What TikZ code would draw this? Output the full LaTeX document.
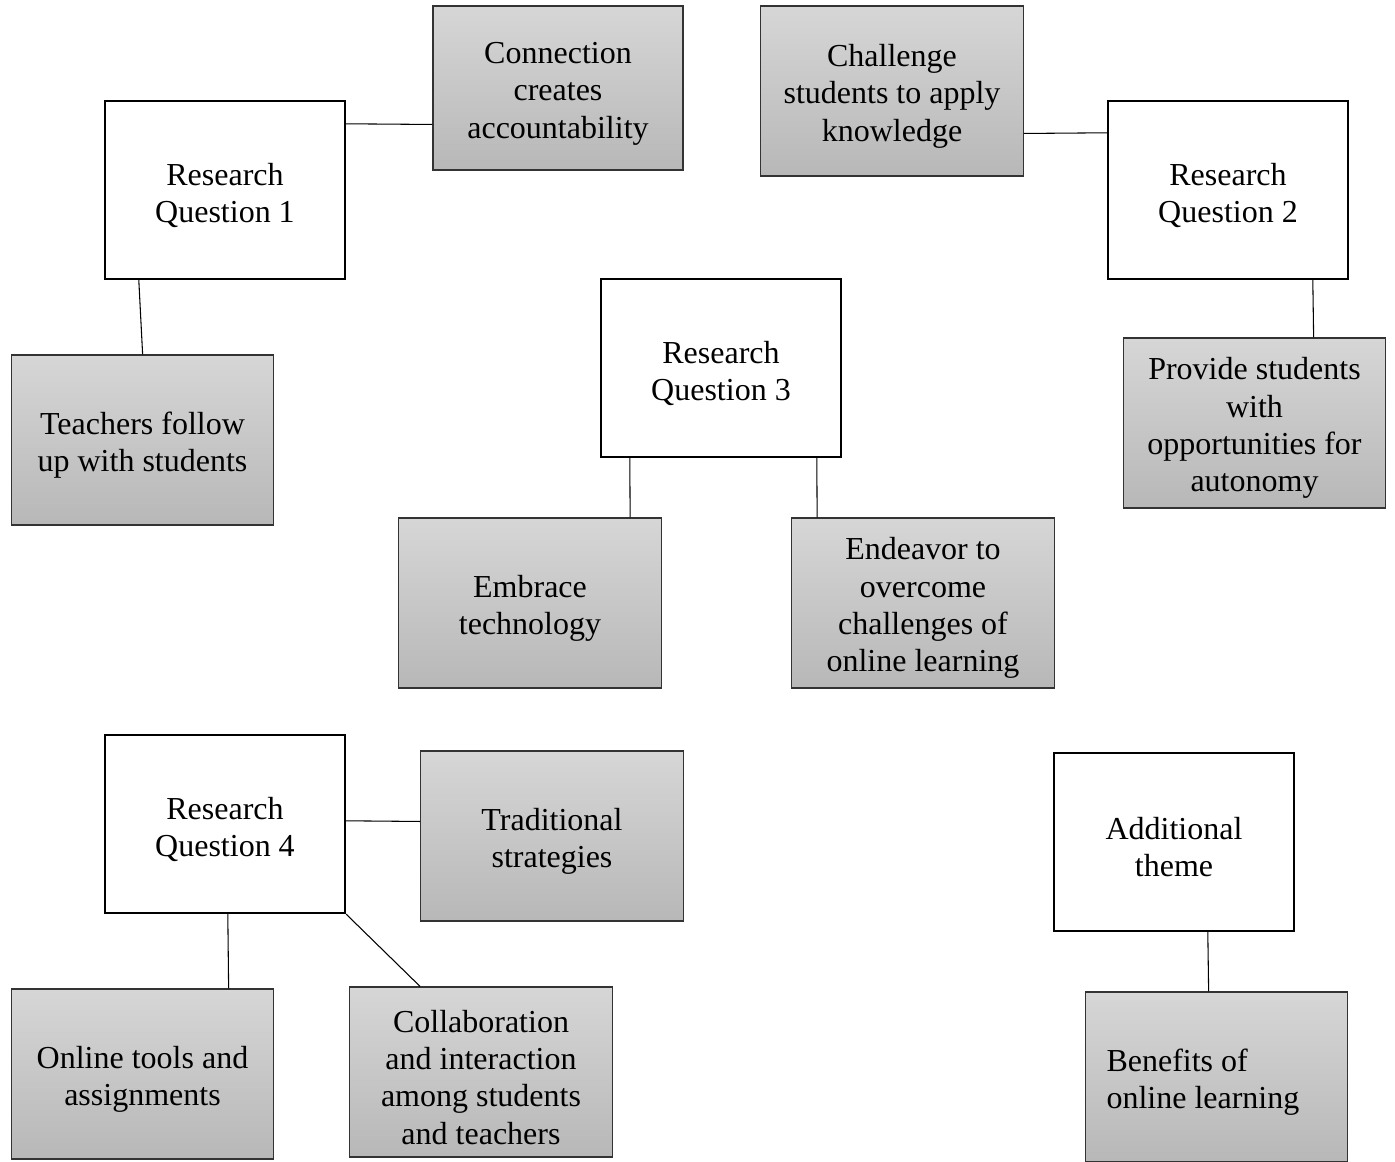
\documentclass[tikz,border=0pt]{standalone}
\usepackage{fontspec}
\setmainfont{Liberation Serif}
\usetikzlibrary{calc}

\tikzset{
  qbox/.style={draw, line width=1.8pt, fill=white, align=flush center,
    text width=160pt, minimum width=180pt, minimum height=133.5pt,
    font=\fontsize{24}{28}\selectfont,
    execute at begin node={\rule{0pt}{24.5pt}}},
  themebox/.style={draw=black!80, line width=0.8pt, top color=black!16,
    bottom color=black!28, align=flush center, text width=178pt,
    minimum width=197pt, minimum height=127.5pt,
    font=\fontsize{24}{28}\selectfont,
    execute at begin node={\rule{0pt}{24.5pt}}},
  link/.style={line width=0.8pt}
}

\begin{document}
\begin{tikzpicture}[x=0.75pt,y=-0.75pt]
\useasboundingbox (0,0) rectangle (1395,1162);

% research questions
\node[qbox] (rq1) at (225,190) {Research\\Question 1};
\node[qbox] (rq2) at (1228,190) {Research\\Question 2};
\node[qbox] (rq3) at (721,368) {Research\\Question 3};
\node[qbox] (rq4) at (225,824) {Research\\Question 4};
\node[qbox] (addl) at (1174,842) {Additional\\theme};

% themes
\node[themebox, text width=170pt, minimum width=187.5pt, minimum height=123pt] (conn) at (558,88) {Connection\\creates\\accountability};
\node[themebox] (chal) at (892,91) {Challenge\\students to apply\\knowledge};
\node[themebox] (tfu) at (142.5,440) {Teachers follow\\up with students};
\node[themebox] (prov) at (1254.5,423) {Provide students\\with\\opportunities for\\autonomy};
\node[themebox] (emb) at (530,603) {Embrace\\technology};
\node[themebox] (endv) at (923,603) {Endeavor to\\overcome\\challenges of\\online learning};
\node[themebox] (trad) at (552,836) {Traditional\\strategies};
\node[themebox] (onl) at (142.5,1074) {Online tools and\\assignments};
\node[themebox] (coll) at (481,1072) {Collaboration\\and interaction\\among students\\and teachers};
\node[themebox, align=flush left, text width=165pt] (ben) at (1216.5,1077) {Benefits of\\online learning};

% links
\draw[link] ($(rq1.north east)+(0,24)$) -- ($(conn.north west)+(0,119)$);
\draw[link] ($(rq1.south west)+(35,0)$) -- ($(tfu.north west)+(132,0)$);
\draw[link] ($(chal.north east)+(0,128)$) -- ($(rq2.north west)+(0,33)$);
\draw[link] ($(rq2.south west)+(206,0)$) -- ($(prov.north west)+(191,0)$);
\draw[link] ($(rq3.south west)+(30,0)$) -- ($(emb.north west)+(232,0)$);
\draw[link] ($(rq3.south west)+(217,0)$) -- ($(endv.north west)+(26,0)$);
\draw[link] ($(rq4.north east)+(0,87)$) -- ($(trad.north west)+(0,71)$);
\draw[link] ($(rq4.south west)+(124,0)$) -- ($(onl.north west)+(218,0)$);
\draw[link] (rq4.south east) -- ($(coll.north west)+(71,0)$);
\draw[link] ($(addl.south west)+(155,0)$) -- ($(ben.north west)+(124,0)$);
\end{tikzpicture}
\end{document}
